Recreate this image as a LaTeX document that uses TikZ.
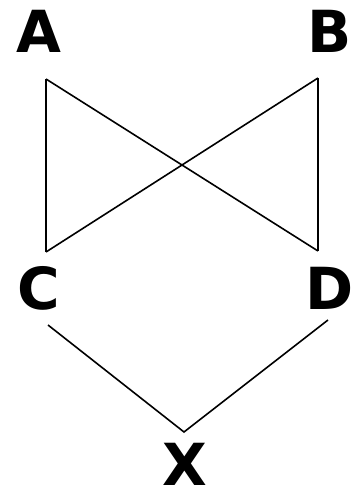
\documentclass[tikz,border=0pt]{standalone}
\usepackage{fontspec}
\setmainfont{DejaVu Sans}
\usetikzlibrary{positioning}

\begin{document}
\begin{tikzpicture}[
        x=1pt, y=-1pt,
        letter/.style={inner sep=0pt, font=\fontsize{58}{60}\selectfont\bfseries},
        link/.style={line width=1.6pt, draw=black}
    ]
        \useasboundingbox (0,0) rectangle (358,487);

        \node[letter] (A) at (38.5,31.5) {A};
        \node[letter] (B) at (330,31.5) {B};
        \node[letter] (C) at (39,288) {C};
        \node[letter] (D) at (330,288) {D};
        \node[letter] (X) at (185,464) {X};

        % line ends below and above the letters
        \coordinate (Aend) at (46,79);
        \coordinate (Bend) at (318,78);
        \coordinate (Cend) at (46,252);
        \coordinate (Dend) at (318,251);
        \coordinate (Cout) at (48,325);
        \coordinate (Dout) at (328,320);
        \coordinate (Xin) at (184,432);

        \draw[link] (Aend) -- (Cend);
        \draw[link] (Aend) -- (Dend);
        \draw[link] (Bend) -- (Dend);
        \draw[link] (Bend) -- (Cend);
        \draw[link] (Cout) -- (Xin) -- (Dout);
    \end{tikzpicture}
\end{document}
